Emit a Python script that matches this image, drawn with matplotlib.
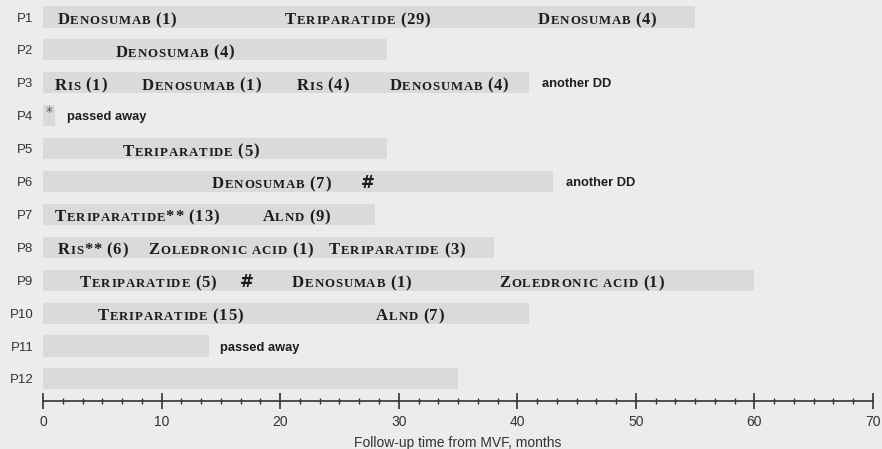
import numpy as np
import matplotlib.pyplot as plt
from matplotlib.ticker import MultipleLocator

patients = ['P%d' % (i + 1) for i in range(12)]
followup = [55, 29, 41, 1, 29, 43, 28, 38, 60, 41, 14, 35]

# (start month, drug label) per patient, mixed case -> drawn as small caps
drugs = [
    [(1.2, 'Denosumab (1)'), (20.4, 'Teriparatide (29)'), (41.7, 'Denosumab (4)')],
    [(6.1, 'Denosumab (4)')],
    [(1.0, 'Ris (1)'), (8.3, 'Denosumab (1)'), (21.4, 'Ris (4)'), (29.2, 'Denosumab (4)')],
    [],
    [(6.7, 'Teriparatide (5)')],
    [(14.2, 'Denosumab (7)'), (26.8, '#')],
    [(1.0, 'Teriparatide** (13)'), (18.5, 'Alnd (9)')],
    [(1.2, 'Ris** (6)'), (8.9, 'Zoledronic acid (1)'), (24.1, 'Teriparatide (3)')],
    [(3.1, 'Teriparatide (5)'), (16.6, '#'), (21.0, 'Denosumab (1)'), (38.5, 'Zoledronic acid (1)')],
    [(4.6, 'Teriparatide (15)'), (28.1, 'Alnd (7)')],
    [],
    [],
]

# (row index, month, text) for outcome notes
notes = [(2, 42.1, 'another DD'), (3, 2.0, 'passed away'),
         (5, 44.1, 'another DD'), (10, 14.9, 'passed away')]

bg = '#ebecee'
bar_col = '#dadada'
txt_col = '#1c1c1c'
big = 12
small = 9.3
track = 0.6   # letter spacing, points
space = 3.0


def smallcaps(ax, x, y, s):
    # one artist per character so the letters can be spaced out
    prev = None
    gap = 0
    for ch in s:
        if ch == ' ':
            gap += space
            continue
        size = small if ch.islower() else big
        kw = dict(fontsize=size, fontfamily='Liberation Serif', fontweight='bold',
                  color=txt_col, va='baseline', ha='left')
        if prev is None:
            prev = ax.text(x, y, ch.upper(), **kw)
        else:
            prev = ax.annotate(ch.upper(), xy=(1, y), xycoords=(prev, 'data'),
                               xytext=(track + gap, 0), textcoords='offset points', **kw)
        gap = 0


fig = plt.figure(figsize=(8.82, 4.49), dpi=100, facecolor=bg)
ax = fig.add_axes([0.0488, 0.107, 0.941, 0.893], facecolor=bg)

rows = np.arange(1, len(patients) + 1)
ax.barh(rows, followup, height=0.64, color=bar_col, left=0)

for r, items in zip(rows, drugs):
    for x0, lab in items:
        if lab == '#':
            ax.text(x0, r + 0.2, '#', fontsize=12, fontfamily='DejaVu Sans',
                    fontweight='bold', color=txt_col, va='baseline')
        else:
            smallcaps(ax, x0, r + 0.21, lab)

for i, x0, lab in notes:
    ax.text(x0, rows[i] + 0.05, lab, fontsize=9.3, fontfamily='Liberation Sans',
            fontweight='bold', color=txt_col, va='center')

ax.text(0.25, rows[3] - 0.1, '*', fontsize=10, color='#555555', va='center')

ax.set_xlim(0, 70)
ax.set_ylim(12.67, 0.483)
ax.set_yticks(rows)
ax.set_yticklabels(patients, fontsize=9.5, fontfamily='Liberation Sans', color='#333333')
ax.tick_params(axis='y', length=0, pad=7)

ax.xaxis.set_major_locator(MultipleLocator(10))
ax.xaxis.set_minor_locator(MultipleLocator(10 / 6))
ax.tick_params(axis='x', which='major', direction='inout', length=12, width=1.2,
               color='#333333', labelsize=10, labelcolor='#333333', pad=4)
ax.tick_params(axis='x', which='minor', direction='inout', length=5, width=1,
               color='#333333')
for lab in ax.get_xticklabels():
    lab.set_fontfamily('Liberation Sans')

for side in ['top', 'right', 'left']:
    ax.spines[side].set_visible(False)
ax.spines['bottom'].set_color('#333333')
ax.spines['bottom'].set_linewidth(1.2)

ax.set_xlabel('Follow-up time from MVF, months', fontsize=10, fontfamily='Liberation Sans',
              color='#333333', labelpad=5)

fig.savefig('out.png', dpi=100, facecolor=bg)
